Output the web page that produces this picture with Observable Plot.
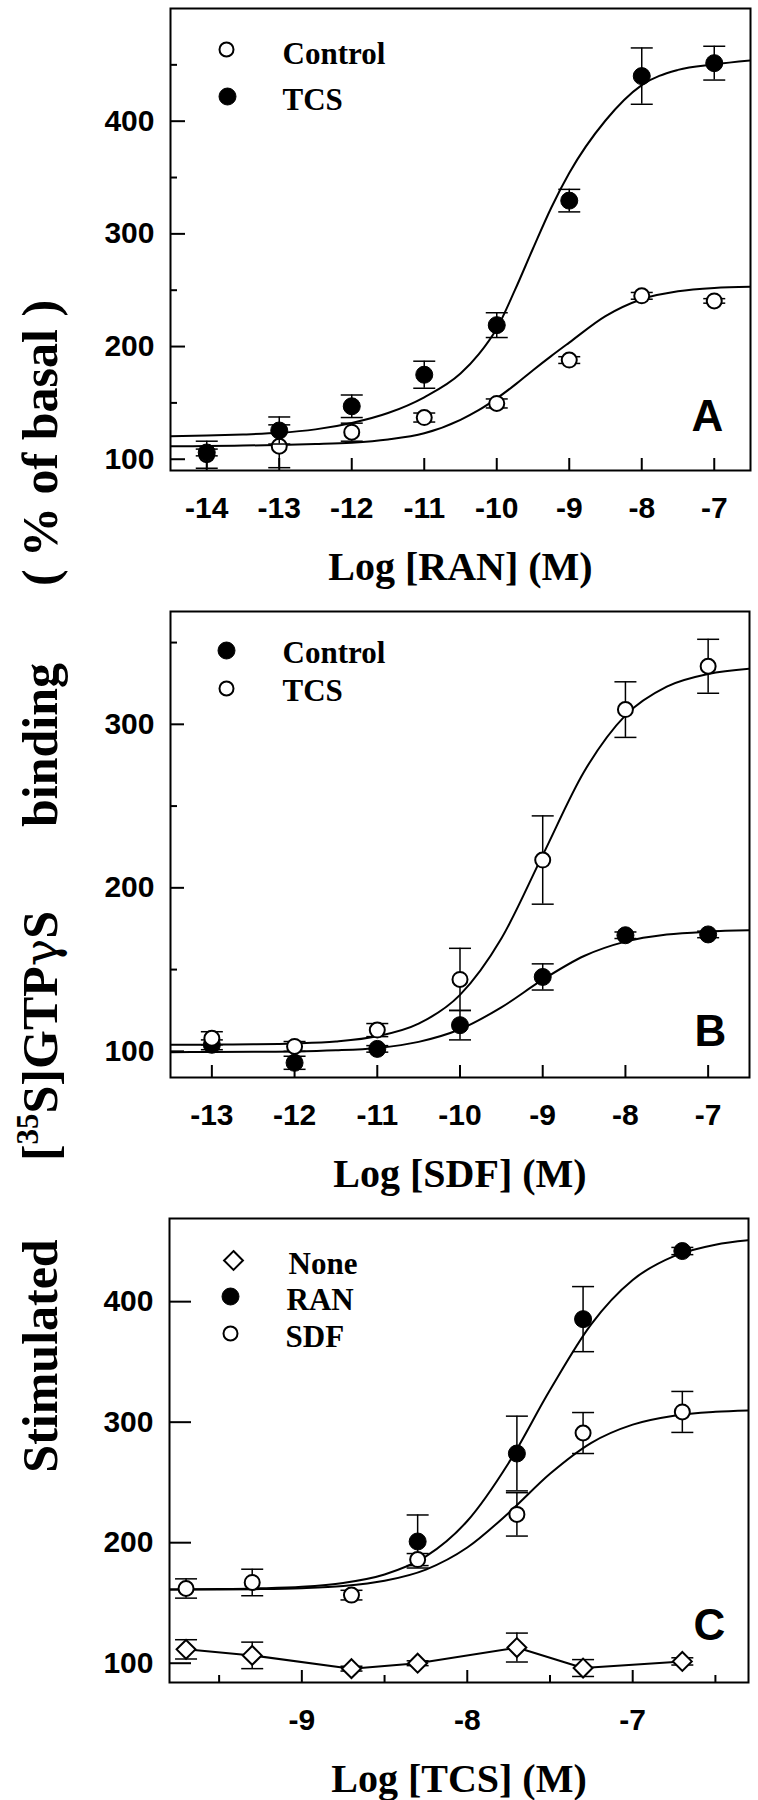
<!DOCTYPE html>
<html>
<head>
<meta charset="utf-8">
<script src="https://cdn.jsdelivr.net/npm/d3@7"></script>
<script src="https://cdn.jsdelivr.net/npm/@observablehq/plot@0.6"></script>
<style>
  body { margin: 0; background: #fff; }
  #fig { position: relative; width: 758px; height: 1800px; background: #fff; overflow: hidden; }
</style>
</head>
<body>
<div id="fig"></div>
<script>
// ---------------- DATA ----------------
// Panel A : Log [RAN] (M)
const aX = [-14, -13, -12, -11, -10, -9, -8, -7];
const aControl = [104, 111.5, 124, 137, 149.5, 188, 245, 240.5];
const aControlErr = [12, 19, 8, 4, 4, 3, 3, 2];
const aTCS = [106, 125.5, 147, 175, 219, 329.5, 440, 451.5];
const aTCSErr = [3, 12, 10, 12, 11, 10, 25, 15];
const aFitX = [-14.5, -14, -13.5, -13, -12.5, -12, -11.5, -11, -10.5, -10.25, -10, -9.75, -9.5, -9.25, -9, -8.5, -8, -7.5, -7, -6.5];
const aTCSFit = [120.4, 121.0, 122.0, 123.4, 126.5, 132.2, 141.0, 155.0, 176.0, 193.0, 216.0, 250.0, 287.0, 323.0, 354.0, 400.6, 432.0, 445.5, 450.5, 454.0];
const aControlFit = [111.5, 111.7, 112.1, 112.7, 113.5, 114.7, 117.5, 123.0, 135.0, 143.5, 154.0, 166.0, 179.0, 191.5, 203.5, 227.0, 242.0, 249.0, 252.0, 253.0];
const aXTicks = [-14, -13, -12, -11, -10, -9, -8, -7];
const aYTicks = [100, 200, 300, 400];
const aYMinor = [150, 250, 350, 450];
const aLegend = ["Control", "TCS"];

// Panel B : Log [SDF] (M)
const bX = [-13, -12, -11, -10, -9, -8, -7];
const bControl = [104, 93, 101.5, 116, 145.5, 171, 171.5];
const bControlErr = [3, 4, 2, 9, 8, 2, 2];
const bTCS = [108, 103, 113, 144, 217, 309, 335.5];
const bTCSErr = [4, 3, 4, 19, 27, 17, 16.5];
const bFitX = [-13.5, -13, -12.5, -12, -11.5, -11, -10.5, -10, -9.5, -9, -8.5, -8, -7.5, -7, -6.5];
const bTCSFit = [104.05, 104.1, 104.3, 104.8, 106.0, 109.2, 116.9, 134.5, 169.0, 220.0, 271.0, 305.5, 323.1, 330.8, 334.0];
const bControlFit = [99.5, 99.6, 99.7, 99.9, 100.6, 102.1, 105.8, 113.5, 126.9, 143.8, 158.3, 167.1, 171.4, 173.2, 174.0];
const bXTicks = [-13, -12, -11, -10, -9, -8, -7];
const bYTicks = [100, 200, 300];
const bYMinor = [150, 250, 350];
const bLegend = ["Control", "TCS"];

// Panel C : Log [TCS] (M)
const cX = [-9.7, -9.3, -8.7, -8.3, -7.7, -7.3, -6.7];
const cNone = [111.5, 106.5, 95.5, 100, 113, 96, 101.5];
const cNoneErr = [8, 11, 2, 2, 12, 7, 3];
const cSDF = [162, 167, 156.5, 186, 223.5, 291, 308.5];
const cSDFErr = [8, 11, 4, 5, 18, 17, 17];
const cRANX = [-8.3, -7.7, -7.3, -6.7];
const cRAN = [201, 274, 385.5, 442];
const cRANErr = [22, 31, 27, 3];
const cFitX = [-9.8, -9.5, -9.25, -9, -8.75, -8.5, -8.25, -8, -7.75, -7.5, -7.25, -7, -6.75, -6.5, -6.3];
const cRANFit = [161.2, 161.5, 162.1, 163.4, 166.6, 173.6, 188.6, 218.0, 266.2, 326.7, 381.4, 418.0, 437.8, 447.3, 451.0];
const cSDFFit = [161.1, 161.2, 161.5, 162.3, 164.1, 168.4, 177.7, 196.0, 224.7, 257.2, 282.9, 298.0, 305.4, 308.6, 309.8];
const cXTicks = [-9, -8, -7];
const cXMinor = [-9.5, -8.5, -7.5, -6.5];
const cYTicks = [100, 200, 300, 400];
const cLegend = ["None", "RAN", "SDF"];

const xTitles = ["Log [RAN] (M)", "Log [SDF] (M)", "Log [TCS] (M)"];
const panelLetters = ["A", "B", "C"];
const yTitleParts = ["Stimulated", "[35S]GTP\u03b3S", "binding", "( % of basal )"];

// ---------------- HELPERS ----------------
const W = 758, H = 600;
const serif = "'Liberation Serif', 'Times New Roman', Times, serif";
const sans = "'Liberation Sans', Arial, Helvetica, sans-serif";
const fig = document.getElementById("fig");

const rows = (xs, ys, es) => xs.map((x, i) => ({x, y: ys[i], e: es ? es[i] : 0}));
const cap = {draw(ctx) { ctx.moveTo(-11, 0); ctx.lineTo(11, 0); }};

function errBars(data) {
  return [
    Plot.ruleX(data, {x: "x", y1: d => d.y - d.e, y2: d => d.y + d.e, stroke: "black", strokeWidth: 1.5, clip: true}),
    Plot.dot(data, {x: "x", y: d => d.y - d.e, symbol: cap, fill: "none", stroke: "black", strokeWidth: 1.5, clip: true}),
    Plot.dot(data, {x: "x", y: d => d.y + d.e, symbol: cap, fill: "none", stroke: "black", strokeWidth: 1.5, clip: true})
  ];
}
const symStyle = {
  filled: {r: 8.5, fill: "black", stroke: "black", strokeWidth: 1},
  open: {r: 7.5, fill: "white", stroke: "black", strokeWidth: 2},
  diamond: {r: 8.5, symbol: "diamond2", fill: "white", stroke: "black", strokeWidth: 2}
};
const pts = (data, kind) => Plot.dot(data, {x: "x", y: "y", ...symStyle[kind]});
const fit = (xs, ys) => Plot.line(rows(xs, ys), {x: "x", y: "y", curve: "monotone-x", stroke: "black", strokeWidth: 2, clip: true});
const poly = (xs, ys) => Plot.line(rows(xs, ys), {x: "x", y: "y", stroke: "black", strokeWidth: 2, clip: true});

function legend(items) {
  // items: [label, kind, dxMarker, dyMarker, dxText, dyText]
  return items.flatMap(([label, kind, dxm, dym, dxt, dyt]) => [
    Plot.dot([label], {frameAnchor: "top-left", dx: dxm, dy: dym, ...symStyle[kind], r: kind === "open" ? 7 : 8.5}),
    Plot.text([label], {frameAnchor: "top-left", dx: dxt, dy: dyt, text: d => d, textAnchor: "start", lineAnchor: "middle",
      fontFamily: serif, fontWeight: "bold", fontSize: 31, fill: "black"})
  ]);
}

function panel(cfg) {
  const {top, mt, mb, ml, mr, xDomain, yDomain, xTicks, xMinor = [], yTicks, yMinor = [], yMajLen, title, letter, letterDx, letterDy, marks} = cfg;
  const innerW = W - ml - mr, innerH = H - mt - mb;
  const chart = Plot.plot({
    width: W, height: H, marginTop: mt, marginBottom: mb, marginLeft: ml, marginRight: mr,
    x: {domain: xDomain}, y: {domain: yDomain},
    style: {background: "transparent", overflow: "visible", color: "black"},
    marks: [
      ...marks,
      // inward ticks
      Plot.ruleX(xTicks, {x: d => d, insetTop: innerH - 12, stroke: "black", strokeWidth: 2}),
      Plot.ruleX(xMinor, {x: d => d, insetTop: innerH - 7, stroke: "black", strokeWidth: 2}),
      Plot.ruleY(yTicks, {y: d => d, insetRight: innerW - yMajLen, stroke: "black", strokeWidth: 2}),
      Plot.ruleY(yMinor, {y: d => d, insetRight: innerW - 7, stroke: "black", strokeWidth: 2}),
      Plot.axisX(xTicks, {tickSize: 0, tickPadding: 26, tickFormat: d => String(d), label: null,
        fontSize: 30, fontWeight: "bold", fontFamily: sans, fill: "black"}),
      Plot.axisY(yTicks, {tickSize: 0, tickPadding: 16, tickFormat: d => String(d), label: null,
        fontSize: 30, fontWeight: "bold", fontFamily: sans, fill: "black"}),
      Plot.frame({stroke: "black", strokeWidth: 2}),
      Plot.text([title], {frameAnchor: "bottom", dy: 109, text: d => d, lineAnchor: "bottom", textAnchor: "middle",
        fontFamily: serif, fontWeight: "bold", fontSize: 40, fill: "black"}),
      Plot.text([letter], {frameAnchor: "bottom-right", dx: letterDx, dy: letterDy, text: d => d, lineAnchor: "middle",
        textAnchor: "middle", fontFamily: sans, fontWeight: "bold", fontSize: 44, fill: "black"})
    ]
  });
  chart.style.position = "absolute";
  chart.style.left = "0px";
  chart.style.top = top + "px";
  fig.append(chart);
}

// ---------------- PANEL A ----------------
{
  const ctl = rows(aX, aControl, aControlErr), tcs = rows(aX, aTCS, aTCSErr);
  panel({
    top: 0, mt: 8, mb: 130, ml: 170, mr: 8,
    xDomain: [-14.5, -6.5], yDomain: [90, 500],
    xTicks: aXTicks, yTicks: aYTicks, yMinor: aYMinor, yMajLen: 15,
    title: xTitles[0], letter: panelLetters[0], letterDx: -43, letterDy: -54,
    marks: [
      fit(aFitX, aControlFit), fit(aFitX, aTCSFit),
      ...errBars(ctl), pts(ctl, "open"),
      ...errBars(tcs), pts(tcs, "filled"),
      ...legend([[aLegend[0], "open", 56, 41, 112, 46], [aLegend[1], "filled", 57, 88, 112, 92]])
    ]
  });
}

// ---------------- PANEL B ----------------
{
  const ctl = rows(bX, bControl, bControlErr), tcs = rows(bX, bTCS, bTCSErr);
  panel({
    top: 600, mt: 11, mb: 123, ml: 170, mr: 9,
    xDomain: [-13.5, -6.5], yDomain: [84, 369],
    xTicks: bXTicks, yTicks: bYTicks, yMinor: bYMinor, yMajLen: 14,
    title: xTitles[1], letter: panelLetters[1], letterDx: -39, letterDy: -46,
    marks: [
      fit(bFitX, bControlFit), fit(bFitX, bTCSFit),
      ...errBars(ctl), pts(ctl, "filled"),
      ...errBars(tcs), pts(tcs, "open"),
      ...legend([[bLegend[0], "filled", 56, 39, 112, 42], [bLegend[1], "open", 56, 77, 112, 80]])
    ]
  });
}

// ---------------- PANEL C ----------------
{
  const none = rows(cX, cNone, cNoneErr), sdf = rows(cX, cSDF, cSDFErr), ran = rows(cRANX, cRAN, cRANErr);
  panel({
    top: 1200, mt: 18, mb: 118, ml: 169, mr: 10,
    xDomain: [-9.8, -6.3], yDomain: [84, 469],
    xTicks: cXTicks, xMinor: cXMinor, yTicks: cYTicks, yMajLen: 22,
    title: xTitles[2], letter: panelLetters[2], letterDx: -39, letterDy: -57,
    marks: [
      fit(cFitX, cRANFit), fit(cFitX, cSDFFit), poly(cX, cNone),
      ...errBars(none), pts(none, "diamond"),
      ...errBars(ran), pts(ran, "filled"),
      ...errBars(sdf), pts(sdf, "open"),
      ...legend([[cLegend[0], "diamond", 64, 42, 119, 46], [cLegend[1], "filled", 61, 78, 117, 82], [cLegend[2], "open", 61, 115, 116, 119]])
    ]
  });
}

// ---------------- SHARED Y TITLE ----------------
{
  const svg = d3.create("svg").attr("width", W).attr("height", 1800)
    .style("position", "absolute").style("left", "0px").style("top", "0px");
  const g = svg.append("g").attr("font-family", serif).attr("font-weight", "bold").attr("font-size", 50).attr("fill", "black");
  const centers = [1356, 1036, 745, 443];
  yTitleParts.forEach((part, i) => {
    const t = g.append("text").attr("text-anchor", "middle").attr("transform", `translate(57,${centers[i]}) rotate(-90)`);
    if (part.startsWith("[35S]")) {
      t.append("tspan").text("[");
      t.append("tspan").attr("font-size", 31).attr("dy", -19).text("35");
      t.append("tspan").attr("dy", 19).text("S]GTP");
      t.append("tspan").attr("font-family", "'DejaVu Serif', serif").attr("font-weight", "normal").attr("font-size", 46).text("\u03b3");
      t.append("tspan").text("S");
    } else {
      t.attr("xml:space", "preserve").style("white-space", "pre").text(part);
    }
  });
  fig.append(svg.node());
}
</script>
</body>
</html>
